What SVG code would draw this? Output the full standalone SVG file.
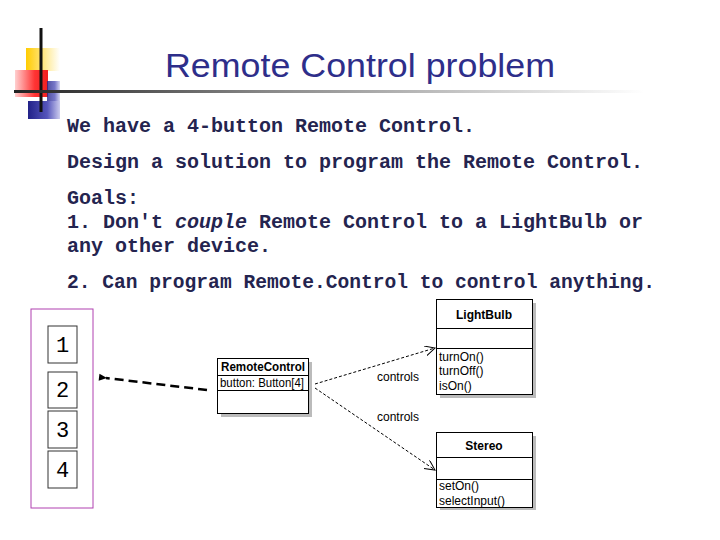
<svg xmlns="http://www.w3.org/2000/svg" width="720" height="540" viewBox="0 0 720 540">
<defs>
<linearGradient id="yel" x1="0" y1="0" x2="1" y2="0"><stop offset="0" stop-color="#FFCC00"/><stop offset="0.5" stop-color="#FFE680"/><stop offset="1" stop-color="#FFFFFF"/></linearGradient>
<linearGradient id="red" x1="0" y1="0" x2="1" y2="0"><stop offset="0" stop-color="#FFD0D0"/><stop offset="0.6" stop-color="#FF3333"/><stop offset="1" stop-color="#EE2020"/></linearGradient>
<linearGradient id="blu" x1="0" y1="0" x2="1" y2="0"><stop offset="0" stop-color="#222288"/><stop offset="0.6" stop-color="#5555BB"/><stop offset="1" stop-color="#CCCCEE"/></linearGradient>
<linearGradient id="rule" x1="0" y1="0" x2="1" y2="0"><stop offset="0" stop-color="#222222"/><stop offset="0.4" stop-color="#888888"/><stop offset="1" stop-color="#FFFFFF"/></linearGradient>
<marker id="open" markerWidth="12" markerHeight="12" refX="10" refY="5" orient="auto" markerUnits="userSpaceOnUse"><path d="M0,0 L10,5 L0,10" fill="none" stroke="#000" stroke-width="1"/></marker>
<marker id="solid" markerWidth="10" markerHeight="10" refX="1" refY="4" orient="auto" markerUnits="userSpaceOnUse"><path d="M8,0.5 L0,4 L8,7.5 Z" fill="#000"/></marker>
</defs>
<style>
.body{font-family:"Liberation Mono","Courier New",monospace;font-size:20px;font-weight:bold;fill:#24244F}
.num{font-family:"Liberation Mono","Courier New",monospace;font-size:22px;fill:#000}
.uml{font-family:"Liberation Sans",Arial,sans-serif;font-size:12px;fill:#000}
.umlb{font-family:"Liberation Sans",Arial,sans-serif;font-size:12px;font-weight:bold;fill:#000;text-anchor:middle}
.box{fill:#fff;stroke:#000;stroke-width:1}
.shadow{fill:#BBBBBB}
.key{fill:#fff;stroke:#333;stroke-width:1}
.dash{fill:none;stroke:#000;stroke-width:1;stroke-dasharray:3,2}
</style>
<rect width="720" height="540" fill="#fff"/>
<g id="logo">
<rect x="26" y="48" width="34" height="23" fill="url(#yel)"/>
<rect x="15" y="70" width="33" height="27" fill="url(#red)"/>
<rect x="47" y="81" width="13" height="23" fill="url(#blu)" opacity="0.8"/>
<rect x="28" y="101" width="32" height="18" fill="url(#blu)"/>
<line x1="41" y1="28" x2="41" y2="112" stroke="#111" stroke-width="3"/>
<rect x="14" y="90" width="630" height="3" fill="url(#rule)"/>
</g>
<g id="title">
<text x="165" y="77" font-family="'Liberation Sans',Arial,sans-serif" font-size="33" fill="#2E2E8A" textLength="390" lengthAdjust="spacingAndGlyphs">Remote Control problem</text>
</g>
<g id="text">
<text class="body" x="67" y="132">We have a 4-button Remote Control.</text>
<text class="body" x="67" y="168">Design a solution to program the Remote Control.</text>
<text class="body" x="67" y="204">Goals:</text>
<text class="body" x="67" y="228">1. Don't <tspan font-style="italic">couple</tspan> Remote Control to a LightBulb or</text>
<text class="body" x="67" y="252">any other device.</text>
<text class="body" x="67" y="288" textLength="588" lengthAdjust="spacingAndGlyphs">2. Can program Remote.Control to control anything.</text>
</g>
<g id="keypad">
<rect x="31" y="309" width="62" height="199" fill="none" stroke="#B040B0" stroke-width="1"/>
<rect class="key" x="48" y="326" width="29" height="37"/>
<rect class="key" x="48" y="372" width="29" height="36"/>
<rect class="key" x="48" y="411" width="29" height="37"/>
<rect class="key" x="48" y="451" width="29" height="37"/>
<text class="num" x="62.5" y="352" text-anchor="middle">1</text>
<text class="num" x="62.5" y="397" text-anchor="middle">2</text>
<text class="num" x="62.5" y="437" text-anchor="middle">3</text>
<text class="num" x="62.5" y="477" text-anchor="middle">4</text>
</g>
<g id="RemoteControl">
<rect class="shadow" x="221" y="362" width="91" height="55"/>
<rect class="box" x="217.5" y="358.5" width="91" height="55"/>
<line x1="217.5" y1="375.5" x2="308.5" y2="375.5" stroke="#000"/>
<line x1="217.5" y1="390.5" x2="308.5" y2="390.5" stroke="#000"/>
<text class="umlb" x="263" y="371" textLength="84" lengthAdjust="spacingAndGlyphs">RemoteControl</text>
<text class="uml" x="220" y="387" textLength="84" lengthAdjust="spacingAndGlyphs">button: Button[4]</text>
</g>
<g id="LightBulb">
<rect class="shadow" x="440" y="303" width="96" height="95"/>
<rect class="box" x="436.5" y="299.5" width="96" height="95"/>
<line x1="436.5" y1="328.5" x2="532.5" y2="328.5" stroke="#000"/>
<line x1="436.5" y1="348.5" x2="532.5" y2="348.5" stroke="#000"/>
<text class="umlb" x="484" y="319">LightBulb</text>
<text class="uml" x="439" y="361">turnOn()</text>
<text class="uml" x="439" y="375">turnOff()</text>
<text class="uml" x="439" y="390">isOn()</text>
</g>
<g id="Stereo">
<rect class="shadow" x="440" y="436" width="96" height="74"/>
<rect class="box" x="436.5" y="432.5" width="96" height="75"/>
<line x1="436.5" y1="457.5" x2="532.5" y2="457.5" stroke="#000"/>
<line x1="436.5" y1="479.5" x2="532.5" y2="479.5" stroke="#000"/>
<text class="umlb" x="484" y="450">Stereo</text>
<text class="uml" x="439" y="490">setOn()</text>
<text class="uml" x="439" y="505">selectInput()</text>
</g>
<g id="connectors">
<line x1="207" y1="390" x2="106" y2="378" stroke="#000" stroke-width="2.5" stroke-dasharray="9,5" marker-end="url(#solid)"/>
<line class="dash" x1="315" y1="384" x2="435" y2="348" marker-end="url(#open)"/>
<line class="dash" x1="315" y1="388" x2="435" y2="470" marker-end="url(#open)"/>
<text class="uml" x="377" y="381">controls</text>
<text class="uml" x="377" y="421">controls</text>
</g>
</svg>
